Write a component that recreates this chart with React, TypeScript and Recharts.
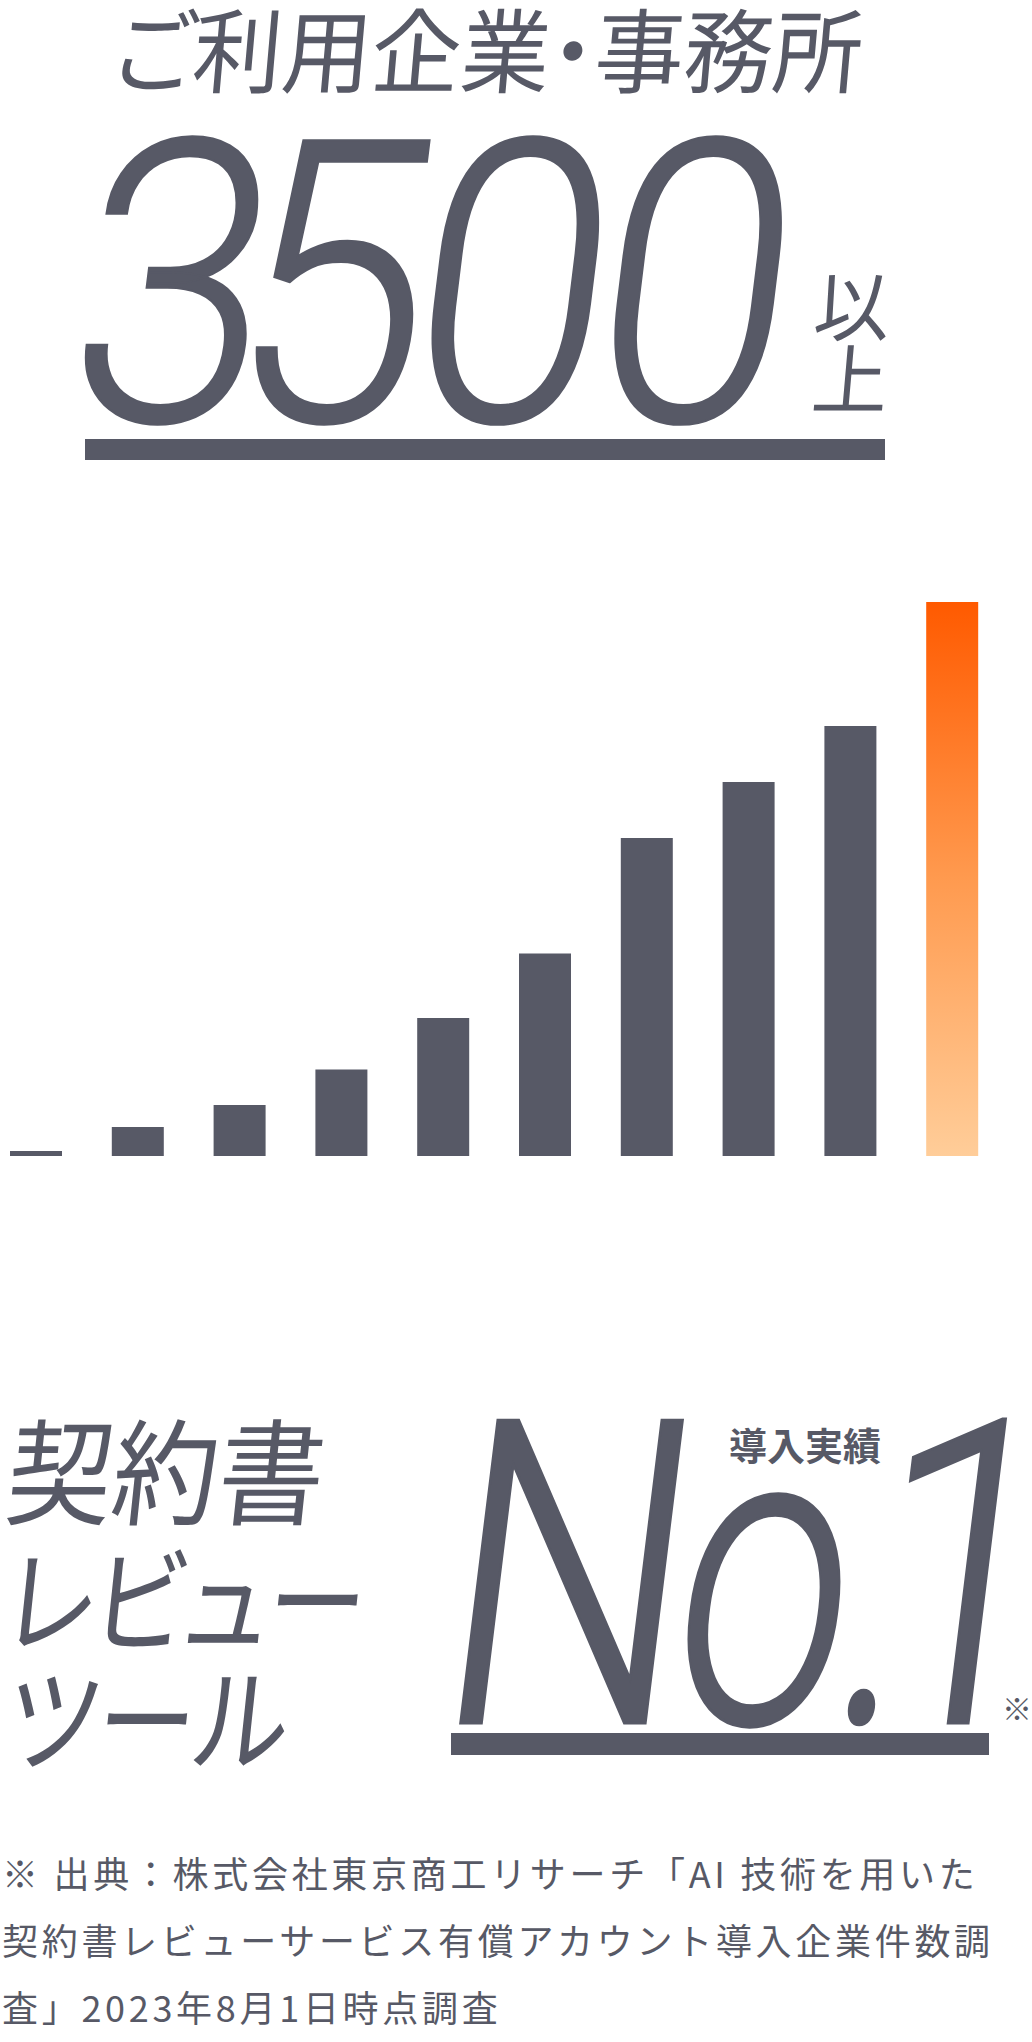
import React from 'react';
import { BarChart, Bar, XAxis, YAxis, Cell } from 'recharts';

const categories = ['1', '2', '3', '4', '5', '6', '7', '8', '9', '10'];
const values = [32, 183, 322, 546, 872, 1279, 2009, 2363, 2716, 3500];
const highlightIndex = 9;

const titleText = 'ご利用企業・事務所';
const bigDigits = ['3', '5', '0', '0'];
const bigDigitShift = [0, -20, 5, 7];
const bigSuffix = ['以', '上'];
const toolLines = ['契約書', 'レビュー', 'ツール'];
const rankLabel = '導入実績';
const rankText = ['N', 'o', '.', '1'];
const footnoteLines = [
  '※ 出典：株式会社東京商工リサーチ「AI 技術を用いた',
  '契約書レビューサービス有償アカウント導入企業件数調',
  '査」2023年8月1日時点調査',
];

const data = categories.map((c, i) => ({ name: c, value: values[i] }));

const INK = '#575966';
const JP = '"Noto Sans CJK JP", "Noto Sans", sans-serif';
const NUM = 'Roboto, "Noto Sans", sans-serif';
const PALT = { fontFeatureSettings: '"palt" 1' } as React.CSSProperties;

export default function App() {
  return (
    <div style={{ position: 'absolute', left: 0, top: 0, width: 1032, height: 2042, background: '#fff', overflow: 'hidden' }}>
      <div style={{ position: 'absolute', left: -15, top: 590 }}>
        <BarChart width={1018} height={576} data={data} margin={{ top: 12, right: 0, bottom: 10, left: 0 }}>
          <XAxis dataKey="name" hide />
          <YAxis hide domain={[0, 3500]} />
          <Bar dataKey="value" barSize={52} isAnimationActive={false}>
            {data.map((d, i) => (
              <Cell key={d.name} fill={i === highlightIndex ? 'url(#orangeGrad)' : INK} />
            ))}
          </Bar>
        </BarChart>
      </div>
      <svg width={1032} height={2042} style={{ position: 'absolute', left: 0, top: 0, pointerEvents: 'none' }}>
        <defs>
          <linearGradient id="orangeGrad" x1="0" y1="0" x2="0" y2="1">
            <stop offset="0%" stopColor="#ff5a00" />
            <stop offset="50%" stopColor="#ff9a4f" />
            <stop offset="100%" stopColor="#ffcd99" />
          </linearGradient>
        </defs>
        <g fill={INK}>
          <text transform="translate(112,86) skewX(-5) scale(0.97,1)" fontFamily={JP} fontSize={92} style={PALT}>{titleText}</text>
          <text transform="translate(60,421) skewX(-7) scale(0.9,1)" fontFamily={NUM} fontSize={395} fontWeight={300} letterSpacing={-23} stroke={INK} strokeWidth={2}>
            {bigDigits.map((d, i) => (
              <tspan key={i} dx={bigDigitShift[i]}>{d}</tspan>
            ))}
          </text>
          <text transform="translate(812,335) skewX(-5)" fontFamily={JP} fontSize={76}>{bigSuffix[0]}</text>
          <text transform="translate(810,408) skewX(-5)" fontFamily={JP} fontSize={76}>{bigSuffix[1]}</text>
          <rect x={85} y={439} width={800} height={21} />

          <text transform="translate(3,1516) skewX(-6) scale(0.92,1)" fontFamily={JP} fontSize={115} style={PALT}>{toolLines[0]}</text>
          <text transform="translate(3,1644) skewX(-6) scale(0.86,1)" fontFamily={JP} fontSize={115} style={PALT}>{toolLines[1]}</text>
          <text transform="translate(3,1763) skewX(-6) scale(0.86,1)" fontFamily={JP} fontSize={115} style={PALT}>{toolLines[2]}</text>

          <text x={729} y={1460} fontFamily={JP} fontSize={38} fontWeight={700}>{rankLabel}</text>
          <g stroke={INK} strokeWidth={3}>
            <text transform="translate(429,1723) skewX(-7) scale(0.82,1)" fontFamily={NUM} fontSize={426} fontWeight={300}>{rankText[0]}</text>
            <text transform="translate(663,1723) skewX(-7) scale(0.73,1)" fontFamily={NUM} fontSize={426} fontWeight={300}>{rankText[1]}</text>
            <text transform="translate(826,1723) skewX(-7) scale(0.7,1)" fontFamily={NUM} fontSize={426} fontWeight={300}>{rankText[2]}</text>
            <text transform="translate(850,1723) skewX(-7) scale(0.82,1)" fontFamily={NUM} fontSize={426} fontWeight={300} letterSpacing={-70}>{rankText[3]}</text>
          </g>
          <text x={1002} y={1720} fontFamily={JP} fontSize={30}>※</text>
          <rect x={451} y={1733} width={538} height={22} />

          {footnoteLines.map((t, i) => (
            <text key={i} x={2} y={1888 + i * 67} fontFamily={JP} fontSize={36} letterSpacing={3.7}>{t}</text>
          ))}
        </g>
      </svg>
    </div>
  );
}
